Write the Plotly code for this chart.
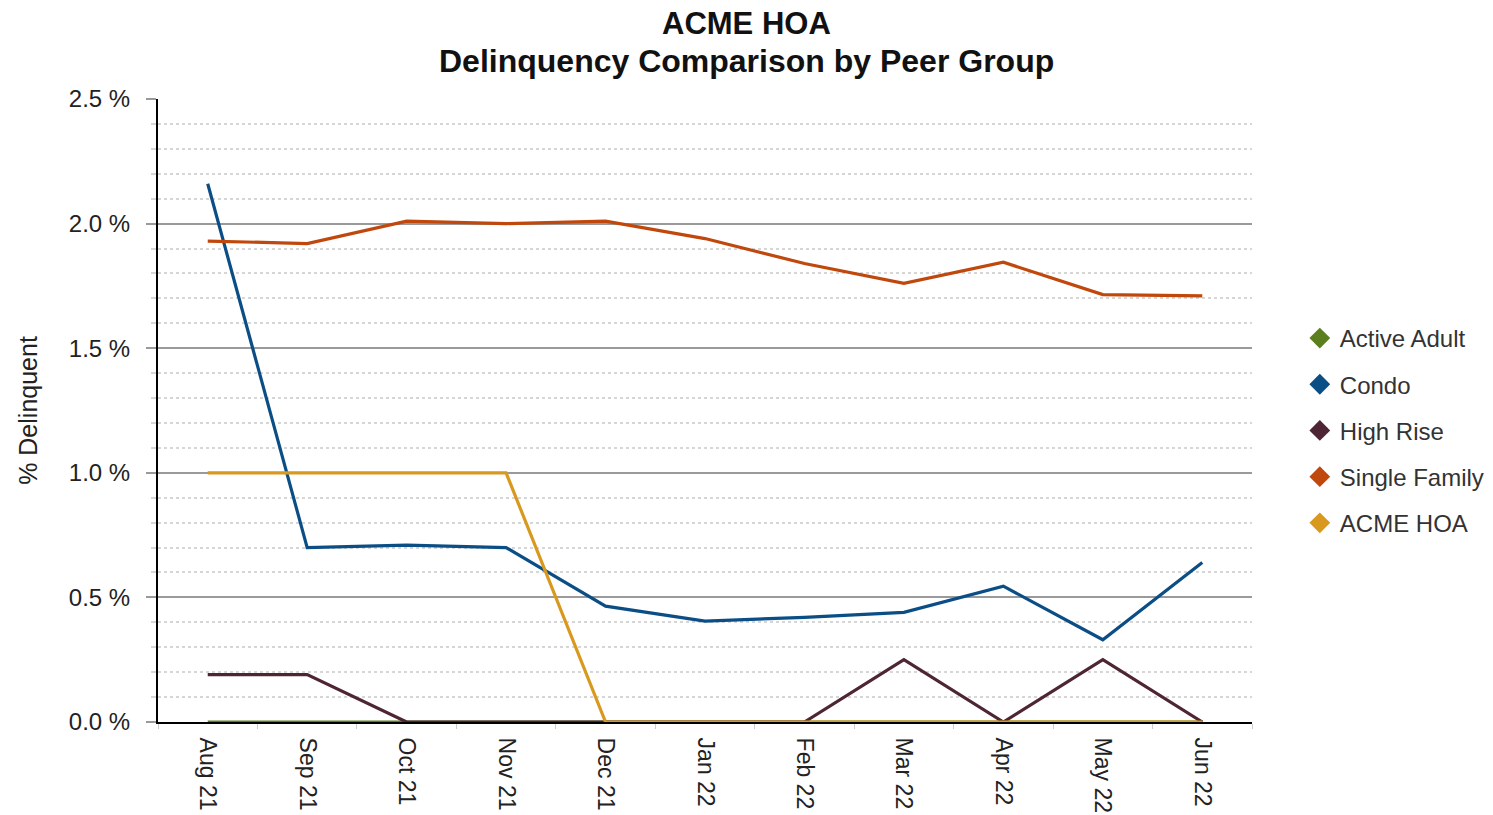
import plotly.graph_objects as go

months = ["Aug 21", "Sep 21", "Oct 21", "Nov 21", "Dec 21", "Jan 22",
          "Feb 22", "Mar 22", "Apr 22", "May 22", "Jun 22"]

active_adult = [0, 0, 0, 0, 0, 0, 0, 0, 0, 0, 0]
condo = [2.16, 0.70, 0.71, 0.70, 0.465, 0.405, 0.42, 0.44, 0.545, 0.33, 0.64]
high_rise = [0.19, 0.19, 0, 0, 0, 0, 0, 0.25, 0, 0.25, 0]
single_family = [1.93, 1.92, 2.01, 2.00, 2.01, 1.94, 1.84, 1.76, 1.845, 1.715, 1.71]
acme_hoa = [1.0, 1.0, 1.0, 1.0, 0, 0, 0, 0, 0, 0, 0]

series = [
    ("Active Adult", active_adult, "#5b7f1f"),
    ("Condo", condo, "#0b4e86"),
    ("High Rise", high_rise, "#4e2535"),
    ("Single Family", single_family, "#c0480c"),
    ("ACME HOA", acme_hoa, "#d8991e"),
]

FONT = "Liberation Sans, Arial, sans-serif"

fig = go.Figure()
for name, vals, color in series:
    fig.add_trace(go.Scatter(
        x=months, y=vals, mode="lines", name=name,
        line=dict(color=color, width=3.2), showlegend=False,
        hovertemplate="%{x}: %{y:.2f} %<extra>" + name + "</extra>",
    ))
for i, (name, vals, color) in enumerate(series):
    fig.add_trace(go.Scatter(
        x=[None], y=[None], mode="markers", name=name,
        marker=dict(symbol="diamond", size=17, color=color),
        legendgroup=f"g{i}", showlegend=True,
    ))

# page body has an 8px margin, so the figure is drawn 8px smaller and offset
fig.update_layout(
    width=1485, height=807,
    paper_bgcolor="white", plot_bgcolor="white",
    margin=dict(l=150, r=241, t=91, b=93, autoexpand=False),
    font=dict(family=FONT, color="#222222"),
    legend=dict(
        x=1.0437, xanchor="left", y=0.468, yanchor="middle",
        font=dict(size=24, color="#333333"),
        tracegroupgap=12, itemwidth=30,
        bgcolor="rgba(0,0,0,0)",
    ),
    showlegend=True,
    annotations=[
        dict(text="<b>ACME HOA</b>", xref="paper", yref="paper",
             x=0.5375, y=1 + 75 / 623, xanchor="center", yanchor="middle",
             showarrow=False, font=dict(size=31, color="#111111", family=FONT)),
        dict(text="<b>Delinquency Comparison by Peer Group</b>", xref="paper", yref="paper",
             x=0.5375, y=1 + 38 / 623, xanchor="center", yanchor="middle",
             showarrow=False, font=dict(size=32, color="#111111", family=FONT)),
    ],
)

fig.update_xaxes(
    type="category", range=[-0.5, 10.5], automargin=False,
    showline=True, linecolor="black", linewidth=2,
    showgrid=False, ticks="outside", tickson="boundaries",
    ticklen=5, tickcolor="#cccccc", tickwidth=1,
    tickangle=90, tickfont=dict(size=23, color="#222222"),
    ticklabelstandoff=9,
)
fig.update_yaxes(
    range=[0, 2.5], dtick=0.5, tick0=0, automargin=False,
    tickformat=".1f", ticksuffix=" %",
    showline=True, linecolor="black", linewidth=2,
    showgrid=True, gridcolor="#9a9a9a", gridwidth=1.5,
    zeroline=False,
    ticks="outside", ticklen=10, tickcolor="#9a9a9a", tickwidth=1.5,
    tickfont=dict(size=24, color="#222222"),
    ticklabelstandoff=11,
    minor=dict(dtick=0.1, showgrid=True, gridcolor="#d6d6d6", griddash="dot",
               gridwidth=1.5, ticks="outside", ticklen=5, tickcolor="#d6d6d6"),
    title=dict(text="% Delinquent", font=dict(size=25, color="#222222"), standoff=24),
)

fig.write_html("out.html")
